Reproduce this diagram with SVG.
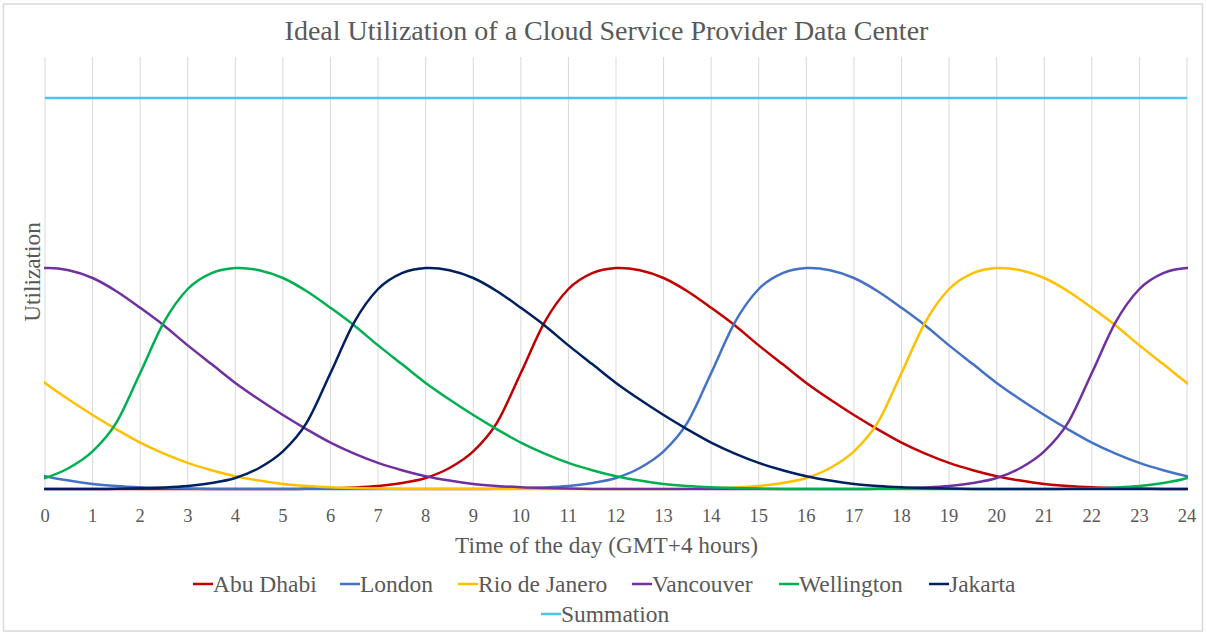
<svg xmlns="http://www.w3.org/2000/svg" xmlns:xlink="http://www.w3.org/1999/xlink" width="1207" height="635" viewBox="0 0 1207 635">
<style>
.grid{stroke:#D9D9D9;stroke-width:1}
.tick{font-family:"Liberation Serif","Times New Roman",serif;font-size:18.5px;fill:#595959;text-anchor:middle}
.title{font-family:"Liberation Serif","Times New Roman",serif;font-size:28px;fill:#595959;text-anchor:middle}
.axt{font-family:"Liberation Serif","Times New Roman",serif;font-size:23.3px;fill:#595959;text-anchor:middle}
.leg{font-family:"Liberation Serif","Times New Roman",serif;font-size:23.5px;fill:#595959}
.s{fill:none;stroke-width:2.5;stroke-linejoin:round}
.ad{stroke:#C00000}.lo{stroke:#4472C4}.ri{stroke:#FFC000}.va{stroke:#7030A0}.we{stroke:#00B050}.ja{stroke:#002060}.su{stroke:#4FC3F0}
</style>
<defs>
<clipPath id="plot"><rect x="44" y="0" width="1144" height="500"/></clipPath>
<path id="bump" d="M -571 489 L -333.08 489 S -317.22 488.89 -309.29 488.78 S -293.43 488.56 -285.5 488.34 S -269.64 487.86 -261.71 487.45 S -245.85 486.65 -237.92 485.91 S -222.05 484.36 -214.12 483.03 S -198.26 480.46 -190.33 477.95 S -174.47 472.42 -166.54 468 S -150.68 458.98 -142.75 451.43 S -126.89 435.77 -118.96 422.7 S -103.1 389.77 -95.17 373 S -79.3 336.1 -71.37 322.1 S -55.51 297.17 -47.58 289 S -31.72 276.6 -23.79 273.1 S -7.93 268.48 0 268 S 15.86 268.53 23.79 270.2 S 39.65 274.5 47.58 278 S 63.44 286.23 71.37 291.2 S 87.24 302.08 95.17 307.8 S 111.03 319.23 118.96 325.5 S 134.82 338.97 142.75 345.4 S 158.61 357.85 166.54 364.1 S 182.4 377 190.33 382.9 S 206.19 394.15 214.12 399.5 S 229.99 410.03 237.92 415 S 253.78 424.7 261.71 429.3 S 277.57 438.55 285.5 442.6 S 301.36 450.22 309.29 453.6 S 325.15 460.13 333.08 462.9 S 348.94 467.98 356.87 470.2 S 372.74 474.47 380.67 476.2 S 396.53 479.32 404.46 480.6 S 420.32 483.02 428.25 483.9 S 444.11 485.35 452.04 485.9 S 467.9 486.85 475.83 487.2 S 491.69 487.77 499.62 488 S 515.49 488.45 523.42 488.6 S 539.28 488.83 547.21 488.9 S 563.07 488.98 571 489"/>
</defs>
<rect x="3.5" y="4" width="1199" height="627" fill="#FFFFFF" stroke="#D9D9D9" stroke-width="1.5"/>
<text class="title" x="606.5" y="40">Ideal Utilization of a Cloud Service Provider Data Center</text>
<g id="gridlines">
<line class="grid" x1="45" y1="57" x2="45" y2="489"/>
<line class="grid" x1="92.58" y1="57" x2="92.58" y2="489"/>
<line class="grid" x1="140.17" y1="57" x2="140.17" y2="489"/>
<line class="grid" x1="187.75" y1="57" x2="187.75" y2="489"/>
<line class="grid" x1="235.33" y1="57" x2="235.33" y2="489"/>
<line class="grid" x1="282.92" y1="57" x2="282.92" y2="489"/>
<line class="grid" x1="330.5" y1="57" x2="330.5" y2="489"/>
<line class="grid" x1="378.08" y1="57" x2="378.08" y2="489"/>
<line class="grid" x1="425.67" y1="57" x2="425.67" y2="489"/>
<line class="grid" x1="473.25" y1="57" x2="473.25" y2="489"/>
<line class="grid" x1="520.83" y1="57" x2="520.83" y2="489"/>
<line class="grid" x1="568.42" y1="57" x2="568.42" y2="489"/>
<line class="grid" x1="616" y1="57" x2="616" y2="489"/>
<line class="grid" x1="663.58" y1="57" x2="663.58" y2="489"/>
<line class="grid" x1="711.17" y1="57" x2="711.17" y2="489"/>
<line class="grid" x1="758.75" y1="57" x2="758.75" y2="489"/>
<line class="grid" x1="806.33" y1="57" x2="806.33" y2="489"/>
<line class="grid" x1="853.92" y1="57" x2="853.92" y2="489"/>
<line class="grid" x1="901.5" y1="57" x2="901.5" y2="489"/>
<line class="grid" x1="949.08" y1="57" x2="949.08" y2="489"/>
<line class="grid" x1="996.67" y1="57" x2="996.67" y2="489"/>
<line class="grid" x1="1044.25" y1="57" x2="1044.25" y2="489"/>
<line class="grid" x1="1091.83" y1="57" x2="1091.83" y2="489"/>
<line class="grid" x1="1139.42" y1="57" x2="1139.42" y2="489"/>
<line class="grid" x1="1187" y1="57" x2="1187" y2="489"/>
</g>
<g id="series" clip-path="url(#plot)">
<g id="abu-dhabi"><use xlink:href="#bump" href="#bump" class="s ad" transform="translate(616,0)"/></g>
<g id="london"><use xlink:href="#bump" href="#bump" class="s lo" transform="translate(806.33,0)"/><use xlink:href="#bump" href="#bump" class="s lo" transform="translate(-335.67,0)"/></g>
<g id="rio"><use xlink:href="#bump" href="#bump" class="s ri" transform="translate(996.67,0)"/><use xlink:href="#bump" href="#bump" class="s ri" transform="translate(-145.33,0)"/></g>
<g id="vancouver"><use xlink:href="#bump" href="#bump" class="s va" transform="translate(45,0)"/><use xlink:href="#bump" href="#bump" class="s va" transform="translate(1187,0)"/></g>
<g id="wellington"><use xlink:href="#bump" href="#bump" class="s we" transform="translate(235.33,0)"/><use xlink:href="#bump" href="#bump" class="s we" transform="translate(1377.33,0)"/></g>
<g id="jakarta"><use xlink:href="#bump" href="#bump" class="s ja" transform="translate(425.67,0)"/><use xlink:href="#bump" href="#bump" class="s ja" transform="translate(-716.33,0)"/><use xlink:href="#bump" href="#bump" class="s ja" transform="translate(1567.67,0)"/></g>
<g id="summation"><line class="s su" x1="45" y1="98" x2="1187" y2="98"/></g>
</g>
<g id="ticks">
<text class="tick" x="45" y="522">0</text>
<text class="tick" x="92.58" y="522">1</text>
<text class="tick" x="140.17" y="522">2</text>
<text class="tick" x="187.75" y="522">3</text>
<text class="tick" x="235.33" y="522">4</text>
<text class="tick" x="282.92" y="522">5</text>
<text class="tick" x="330.5" y="522">6</text>
<text class="tick" x="378.08" y="522">7</text>
<text class="tick" x="425.67" y="522">8</text>
<text class="tick" x="473.25" y="522">9</text>
<text class="tick" x="520.83" y="522">10</text>
<text class="tick" x="568.42" y="522">11</text>
<text class="tick" x="616" y="522">12</text>
<text class="tick" x="663.58" y="522">13</text>
<text class="tick" x="711.17" y="522">14</text>
<text class="tick" x="758.75" y="522">15</text>
<text class="tick" x="806.33" y="522">16</text>
<text class="tick" x="853.92" y="522">17</text>
<text class="tick" x="901.5" y="522">18</text>
<text class="tick" x="949.08" y="522">19</text>
<text class="tick" x="996.67" y="522">20</text>
<text class="tick" x="1044.25" y="522">21</text>
<text class="tick" x="1091.83" y="522">22</text>
<text class="tick" x="1139.42" y="522">23</text>
<text class="tick" x="1187" y="522">24</text>
</g>
<text class="axt" x="606.5" y="553">Time of the day (GMT+4 hours)</text>
<text class="axt" transform="translate(40,272) rotate(-90)">Utilization</text>
<g id="legend">
<line class="s ad" x1="193" y1="584" x2="213" y2="584"/><text class="leg" x="213" y="592">Abu Dhabi</text>
<line class="s lo" x1="340" y1="584" x2="360" y2="584"/><text class="leg" x="360" y="592">London</text>
<line class="s ri" x1="458" y1="584" x2="478" y2="584"/><text class="leg" x="478" y="592">Rio de Janero</text>
<line class="s va" x1="632" y1="584" x2="652" y2="584"/><text class="leg" x="652" y="592">Vancouver</text>
<line class="s we" x1="779" y1="584" x2="799" y2="584"/><text class="leg" x="799" y="592">Wellington</text>
<line class="s ja" x1="929" y1="584" x2="949" y2="584"/><text class="leg" x="949" y="592">Jakarta</text>
<line class="s su" x1="541" y1="614" x2="561" y2="614"/><text class="leg" x="561" y="622">Summation</text>
</g>
</svg>
